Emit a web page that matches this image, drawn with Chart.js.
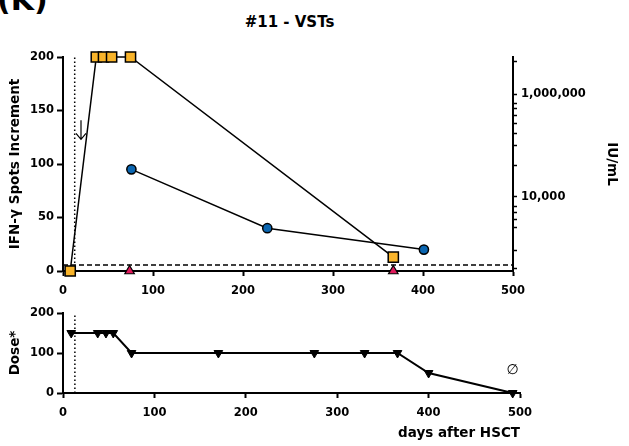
<!DOCTYPE html>
<html>
<head>
<meta charset="utf-8">
<script src="https://cdn.jsdelivr.net/npm/chart.js@4.4.1/dist/chart.umd.min.js"></script>
<style>
	html, body { margin: 0; padding: 0; background: #fff; }
	body { width: 629px; height: 446px; position: relative; overflow: hidden; font-family: 'DejaVu Sans', sans-serif; color: #000; }
	canvas { position: absolute; left: 0; }
	#vstCanvas { top: 0; }
	#doseCanvas { top: 296px; }
	#panelLetter { position: absolute; left: -3px; top: -15px; font: bold 30px/30px 'DejaVu Sans'; }
	#chartTitle { position: absolute; left: 0; width: 579px; top: 13px; text-align: center; font: bold 15px/18px 'DejaVu Sans'; }
</style>
</head>
<body>
<div id="panelLetter">(K)</div>
<div id="chartTitle">#11 - VSTs</div>
<canvas id="vstCanvas" width="629" height="300"></canvas>
<canvas id="doseCanvas" width="629" height="150"></canvas>
<script>
'use strict'

// IFN-γ spots (yellow squares)
const spotsDays = [8, 37, 45, 54, 75, 367];
const spotsValues = [0, 200, 200, 200, 200, 13];

// blue circles
const circleDays = [76, 227, 401];
const circleValues = [95, 40, 20];

// red triangles on the baseline
const triangleDays = [74, 367];
const triangleValues = [0, 0];

// dose (inverted triangles)
const doseDays = [9, 38, 47, 55, 75, 170, 275, 330, 366, 400, 492];
const doseValues = [150, 150, 150, 150, 100, 100, 100, 100, 100, 50, 0];

// axes
const dayTicks = [0, 100, 200, 300, 400, 500];
const spotsTicks = [0, 50, 100, 150, 200];
const doseTicks = [0, 100, 200];
const iuMin = 360;
const iuMax = 5300000;
const iuTicks = [400, 900, 2500, 3600, 5000, 6500, 10000, 40000, 100000, 175000, 270000, 390000, 530000, 670000, 1000000, 4300000];
const iuLabelled = [10000, 1000000];

// reference marks
const hsctDay = 13;
const thresholdSpots = 5.5;
const arrowDay = 20;
const arrowFrom = 141;
const arrowTo = 123;
const noDoseDay = 492;
const noDoseLevel = 56;

Chart.defaults.font.family = "'DejaVu Sans', sans-serif";
Chart.defaults.color = '#000';

const toPoints = (xs, ys) => xs.map((x, i) => ({x: x, y: ys[i]}));
const fixedTicks = (values) => (scale) => { scale.ticks = values.map((v) => ({value: v})); };

const tickFont = {family: "'DejaVu Sans'", weight: 'bold', size: 11.5};
const titleFont = {family: "'DejaVu Sans'", weight: 'bold', size: 13.5};

function axisGrid(len){
	return {drawOnChartArea: false, drawTicks: true, tickLength: len, tickWidth: 2, tickColor: '#000'};
}
const axisBorder = {display: true, color: '#000', width: 2};

const arrowPlugin = {
	id: 'hsctArrow',
	afterDatasetsDraw(chart){
		const {ctx, scales: {x, y}} = chart;
		const px = x.getPixelForValue(arrowDay);
		const yTop = y.getPixelForValue(arrowFrom);
		const yTip = y.getPixelForValue(arrowTo);
		ctx.save();
		ctx.strokeStyle = '#000';
		ctx.lineWidth = 1.2;
		ctx.beginPath();
		ctx.moveTo(px, yTop);
		ctx.lineTo(px, yTip);
		ctx.moveTo(px - 5, yTip - 6);
		ctx.lineTo(px, yTip);
		ctx.lineTo(px + 5, yTip - 6);
		ctx.stroke();
		ctx.restore();
	},
};

const noDosePlugin = {
	id: 'noDose',
	afterDatasetsDraw(chart){
		const {ctx, scales: {x, y}} = chart;
		ctx.save();
		ctx.fillStyle = '#000';
		ctx.font = "14px 'DejaVu Sans'";
		ctx.textAlign = 'center';
		ctx.textBaseline = 'middle';
		ctx.fillText('∅', x.getPixelForValue(noDoseDay), y.getPixelForValue(noDoseLevel));
		ctx.restore();
	},
};

new Chart(document.getElementById('vstCanvas'), {
	type: 'scatter',
	data: {
		datasets: [
			{
				label: 'Triangles',
				data: toPoints(triangleDays, triangleValues),
				showLine: false,
				pointStyle: 'triangle',
				pointRadius: 5.5,
				pointBackgroundColor: '#E0195B',
				pointBorderColor: '#000',
				pointBorderWidth: 1.2,
				clip: false,
			},
			{
				label: 'IFN-γ spots',
				data: toPoints(spotsDays, spotsValues),
				showLine: true,
				borderColor: '#000',
				borderWidth: 1.5,
				pointStyle: 'rect',
				pointRadius: 7.2,
				pointBackgroundColor: '#F9B42A',
				pointBorderColor: '#000',
				pointBorderWidth: 1.5,
				clip: false,
			},
			{
				label: 'Circles',
				data: toPoints(circleDays, circleValues),
				showLine: true,
				borderColor: '#000',
				borderWidth: 1.5,
				pointStyle: 'circle',
				pointRadius: 4.6,
				pointBackgroundColor: '#0B66B1',
				pointBorderColor: '#000',
				pointBorderWidth: 1.5,
				clip: false,
			},
			{
				label: 'Threshold',
				data: [{x: 0, y: thresholdSpots}, {x: 500, y: thresholdSpots}],
				showLine: true,
				borderColor: '#000',
				borderWidth: 1.5,
				borderDash: [5, 3],
				pointRadius: 0,
			},
			{
				label: 'HSCT',
				data: [{x: hsctDay, y: 0}, {x: hsctDay, y: 200}],
				showLine: true,
				borderColor: '#000',
				borderWidth: 1.5,
				borderDash: [1.5, 2.5],
				pointRadius: 0,
				clip: false,
			},
		],
	},
	options: {
		responsive: false,
		animation: false,
		layout: {padding: {top: 57, left: 0, right: 0, bottom: 0}},
		plugins: {legend: {display: false}, tooltip: {enabled: false}},
		scales: {
			x: {
				type: 'linear',
				min: 0,
				max: 500,
				afterBuildTicks: fixedTicks(dayTicks),
				afterFit: (s) => { s.height = 29; },
				grid: axisGrid(5),
				border: axisBorder,
				ticks: {font: tickFont, padding: 8, maxRotation: 0, autoSkip: false},
			},
			y: {
				type: 'linear',
				position: 'left',
				min: 0,
				max: 200,
				afterBuildTicks: fixedTicks(spotsTicks),
				afterFit: (s) => { s.width = 63; },
				grid: axisGrid(6),
				border: axisBorder,
				ticks: {font: tickFont, padding: 3, autoSkip: false},
				title: {display: true, text: 'IFN-γ Spots Increment', font: titleFont, padding: {top: 7, bottom: 0}},
			},
			iu: {
				type: 'logarithmic',
				position: 'right',
				min: iuMin,
				max: iuMax,
				afterBuildTicks: fixedTicks(iuTicks),
				afterFit: (s) => { s.width = 116; },
				grid: {drawOnChartArea: false, drawTicks: true, tickLength: 4, tickWidth: 1.5, tickColor: '#000'},
				border: axisBorder,
				ticks: {
					font: tickFont,
					padding: 4,
					autoSkip: false,
					callback: (v) => iuLabelled.includes(v) ? v.toLocaleString('en-US') : '',
				},
				title: {display: true, text: 'IU/mL', font: titleFont, padding: {top: 9, bottom: 0}},
			},
		},
	},
	plugins: [arrowPlugin],
});

new Chart(document.getElementById('doseCanvas'), {
	type: 'scatter',
	data: {
		datasets: [
			{
				label: 'Dose',
				data: toPoints(doseDays, doseValues),
				showLine: true,
				borderColor: '#000',
				borderWidth: 2,
				pointStyle: 'triangle',
				rotation: 180,
				pointRadius: 5,
				pointBackgroundColor: '#000',
				pointBorderColor: '#000',
				pointBorderWidth: 1,
				clip: false,
			},
			{
				label: 'HSCT',
				data: [{x: hsctDay, y: 0}, {x: hsctDay, y: 200}],
				showLine: true,
				borderColor: '#000',
				borderWidth: 1.5,
				borderDash: [1.5, 2.5],
				pointRadius: 0,
				clip: false,
			},
		],
	},
	options: {
		responsive: false,
		animation: false,
		layout: {padding: {top: 17, left: 0, right: 109, bottom: 0}},
		plugins: {legend: {display: false}, tooltip: {enabled: false}},
		scales: {
			x: {
				type: 'linear',
				min: 0,
				max: 500,
				afterBuildTicks: fixedTicks(dayTicks),
				afterFit: (s) => { s.height = 53; },
				grid: axisGrid(5),
				border: axisBorder,
				ticks: {font: tickFont, padding: 8, maxRotation: 0, autoSkip: false},
				title: {display: true, text: 'days after HSCT', align: 'end', font: titleFont, padding: {top: 0, bottom: 4}},
			},
			y: {
				type: 'linear',
				position: 'left',
				min: 0,
				max: 200,
				afterBuildTicks: fixedTicks(doseTicks),
				afterFit: (s) => { s.width = 63; },
				grid: axisGrid(6),
				border: axisBorder,
				ticks: {font: tickFont, padding: 3, autoSkip: false},
				title: {display: true, text: 'Dose*', font: titleFont, padding: {top: 7, bottom: 0}},
			},
		},
	},
	plugins: [noDosePlugin],
});
</script>
</body>
</html>
